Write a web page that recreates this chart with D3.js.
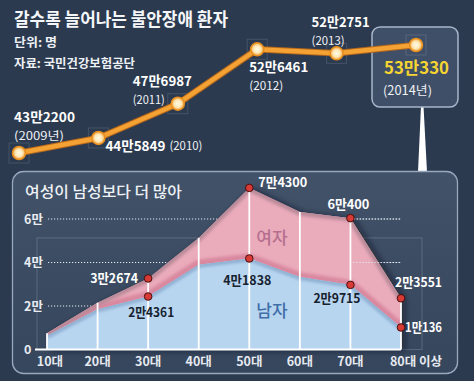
<!DOCTYPE html>
<html>
<head>
<meta charset="utf-8">
<script src="https://cdn.jsdelivr.net/npm/d3@7"></script>
<style>
  html, body { margin: 0; padding: 0; background: #2b3a4f; }
  svg { display: block; }
  text { font-family: "Noto Sans CJK KR", "Noto Sans", sans-serif; }
</style>
</head>
<body>
<div id="chart"></div>
<script>
/* ---------------- data ---------------- */
const years = ["2009", "2010", "2011", "2012", "2013", "2014"];
const patients = [432200, 445849, 476987, 526461, 522751, 530330];
const patientLabels = ["43만2200", "44만5849", "47만6987", "52만6461", "52만2751", "53만330"];
const yearLabels = ["(2009년)", "(2010)", "(2011)", "(2012)", "(2013)", "(2014년)"];

const ages = ["10대", "20대", "30대", "40대", "50대", "60대", "70대", "80대 이상"];
const women = [7500, 21500, 32674, 51300, 74300, 63200, 60400, 23551];
const men = [6300, 18500, 24361, 39000, 41838, 33300, 29715, 10136];
const womenLabels = { 2: "3만2674", 4: "7만4300", 6: "6만400", 7: "2만3551" };
const menLabels = { 2: "2만4361", 4: "4만1838", 6: "2만9715", 7: "1만136" };
const yTicks = [0, 20000, 40000, 60000];
const yTickLabels = ["0", "2만", "4만", "6만"];

/* ---------------- svg ---------------- */
const W = 474, H = 381;
const svg = d3.select("#chart").append("svg").attr("width", W).attr("height", H);
const defs = svg.append("defs");

svg.append("rect").attr("width", W).attr("height", H).attr("fill", "#2b3a4f");

// text helper: condensed look via textLength
function label(g, x, y, str, opt) {
    const t = g.append("text")
        .attr("x", x).attr("y", y)
        .attr("font-size", opt.size)
        .attr("font-weight", opt.weight || 700)
        .attr("fill", opt.fill || "#fff")
        .attr("text-anchor", opt.anchor || "start")
        .text(str);
    if (opt.len) t.attr("textLength", opt.len).attr("lengthAdjust", "spacingAndGlyphs");
    return t;
}

/* ---------------- header ---------------- */
label(svg, 14, 26, "갈수록 늘어나는 불안장애 환자", { size: 18, len: 214, fill: "#f4f6f9" });
label(svg, 14, 47, "단위: 명", { size: 12, len: 43, fill: "#eef1f5" });
label(svg, 14, 68, "자료: 국민건강보험공단", { size: 12, len: 121, fill: "#eef1f5" });

/* ---------------- line chart ---------------- */
const xLine = d3.scalePoint().domain(years).range([19, 416]);
const yLine = d3.scaleLinear().domain([432200, 530330]).range([153, 45]);

// 2014 highlight box + pointer
svg.append("path")
    .attr("d", "M421,106 L423.5,106 L427,172 L418,172 Z")
    .attr("fill", "#ffffff");
svg.append("rect")
    .attr("x", 372).attr("y", 27).attr("width", 86).attr("height", 80).attr("rx", 8)
    .attr("fill", "#3f4f67").attr("stroke", "#a9b7cb").attr("stroke-width", 1.5);

// faint bracket squares around points
const lineG = svg.append("g");
lineG.selectAll("rect.br").data(years).join("rect")
    .attr("x", d => xLine(d) - 10)
    .attr("y", (d, i) => yLine(patients[i]) - 10)
    .attr("width", 20).attr("height", 20)
    .attr("fill", "none").attr("stroke", "rgba(255,255,255,0.13)").attr("stroke-width", 1);

const line = d3.line().x((d, i) => xLine(years[i])).y(d => yLine(d));
lineG.append("path").datum(patients)
    .attr("d", line).attr("fill", "none")
    .attr("stroke", "#b5671c").attr("stroke-width", 6.5).attr("stroke-linejoin", "round");
lineG.append("path").datum(patients)
    .attr("d", line).attr("fill", "none")
    .attr("stroke", "#f4a233").attr("stroke-width", 4.5).attr("stroke-linejoin", "round");

const rg = defs.append("radialGradient").attr("id", "dotGrad");
rg.append("stop").attr("offset", "0%").attr("stop-color", "#fffbe8");
rg.append("stop").attr("offset", "55%").attr("stop-color", "#ffe9b8");
rg.append("stop").attr("offset", "100%").attr("stop-color", "#f3a13a");

lineG.selectAll("circle").data(patients).join("circle")
    .attr("cx", (d, i) => xLine(years[i]))
    .attr("cy", d => yLine(d))
    .attr("r", 6.5)
    .attr("fill", "url(#dotGrad)")
    .attr("stroke", "#e8901f").attr("stroke-width", 1.5);

// value labels (offsets relative to each point)
const lineLab = [
    { dx: -5, dy: -31, ydx: -5, ydy: -13, vlen: 61, ylen: 50 },
    { dx: 7, dy: 13, ydx: 71, ydy: 12, vlen: 60, ylen: 33 },
    { dx: -45, dy: -18, ydx: -45, ydy: 0, vlen: 59, ylen: 32 },
    { dx: -8, dy: 23, ydx: -8, ydy: 41, vlen: 59, ylen: 34 },
    { dx: -25, dy: -26, ydx: -25, ydy: -8, vlen: 58, ylen: 33 }
];
lineLab.forEach((o, i) => {
    const px = xLine(years[i]), py = yLine(patients[i]);
    label(svg, px + o.dx, py + o.dy, patientLabels[i], { size: 13.5, len: o.vlen });
    label(svg, px + o.ydx, py + o.ydy, yearLabels[i], { size: 11.5, weight: 400, len: o.ylen, fill: "#f0f2f5" });
});
label(svg, 384, 74, patientLabels[5], { size: 17, len: 65, fill: "#f6d531" });
label(svg, 383, 95, yearLabels[5], { size: 12.5, weight: 400, len: 49, fill: "#f0f2f5" });

/* ---------------- lower panel ---------------- */
const pg = defs.append("linearGradient").attr("id", "panelGrad")
    .attr("x1", 0).attr("y1", 0).attr("x2", 0).attr("y2", 1);
pg.append("stop").attr("offset", "0%").attr("stop-color", "#415269");
pg.append("stop").attr("offset", "100%").attr("stop-color", "#36465c");

svg.append("rect")
    .attr("x", 12.5).attr("y", 171.5).attr("width", 445).attr("height", 202).attr("rx", 11)
    .attr("fill", "url(#panelGrad)").attr("stroke", "#9aa8bc").attr("stroke-width", 1.3);

label(svg, 25, 197, "여성이 남성보다 더 많아", { size: 15, weight: 500, len: 157, fill: "#eef1f5" });

const x = d3.scalePoint().domain(ages).range([47, 401]);
const y = d3.scaleLinear().domain([0, 60000]).range([349.5, 219]);

const plot = svg.append("g");

// faint frame
plot.append("rect")
    .attr("x", 37).attr("y", y(51300)).attr("width", 385).attr("height", y(0) - y(51300))
    .attr("fill", "none").attr("stroke", "rgba(170,185,205,0.35)").attr("stroke-width", 0.8);

// dotted grid
plot.selectAll("line.grid").data(yTicks.slice(1)).join("line")
    .attr("x1", 48).attr("x2", x(ages[7]))
    .attr("y1", d => y(d)).attr("y2", d => y(d))
    .attr("stroke", "#e6ebf2").attr("stroke-width", 1.2).attr("stroke-dasharray", "1.2,1.8");

// y labels
plot.selectAll("text.yl").data(yTicks).join("text")
    .attr("x", 24).attr("y", d => y(d) + 4.5)
    .attr("font-size", 12.5).attr("font-weight", 700).attr("fill", "#e8ecf2")
    .text((d, i) => yTickLabels[i]);

// areas
const shadow = defs.append("filter").attr("id", "shadow")
    .attr("x", "-10%").attr("y", "-10%").attr("width", "130%").attr("height", "130%");
shadow.append("feDropShadow").attr("dx", 4).attr("dy", 1).attr("stdDeviation", 3)
    .attr("flood-color", "#0d1520").attr("flood-opacity", 0.6);
const blur = defs.append("filter").attr("id", "blur");
blur.append("feGaussianBlur").attr("stdDeviation", 1.6);

const areaW = d3.area().x((d, i) => x(ages[i])).y0(y(0)).y1(d => y(d));
const lineW = d3.line().x((d, i) => x(ages[i])).y(d => y(d));

defs.append("clipPath").attr("id", "clipW").append("path").datum(women).attr("d", areaW);
defs.append("clipPath").attr("id", "clipM").append("path").datum(men).attr("d", areaW);

const areas = plot.append("g").attr("filter", "url(#shadow)");
areas.append("path").datum(women).attr("d", areaW).attr("fill", "#eaabbb");

const wShade = plot.append("g").attr("clip-path", "url(#clipW)");
wShade.append("path").datum(men).attr("d", lineW).attr("fill", "none")
    .attr("stroke", "#d9889f").attr("stroke-width", 10).attr("filter", "url(#blur)");
wShade.append("path").datum(women).attr("d", lineW).attr("fill", "none")
    .attr("stroke", "#b98a99").attr("stroke-width", 7).attr("filter", "url(#blur)");

plot.append("path").datum(men).attr("d", areaW).attr("fill", "#b8d5f0");
plot.append("g").attr("clip-path", "url(#clipM)")
    .append("path").datum(men).attr("d", lineW).attr("fill", "none")
    .attr("stroke", "#8fb0d2").attr("stroke-width", 6).attr("filter", "url(#blur)");

// right-side dotted grid on top
plot.selectAll("line.gridR").data([40000, 60000]).join("line")
    .attr("x1", x(ages[6]) + 3).attr("x2", x(ages[7]))
    .attr("y1", d => y(d)).attr("y2", d => y(d))
    .attr("stroke", "#e6ebf2").attr("stroke-width", 1.2).attr("stroke-dasharray", "1.2,1.8");

// vertical white lines
plot.selectAll("line.v").data(women).join("line")
    .attr("x1", (d, i) => x(ages[i])).attr("x2", (d, i) => x(ages[i]))
    .attr("y1", y(0)).attr("y2", d => y(d))
    .attr("stroke", "#ffffff").attr("stroke-width", 1.8);

// baseline
plot.append("line").attr("x1", 35).attr("x2", x(ages[7]))
    .attr("y1", y(0)).attr("y2", y(0))
    .attr("stroke", "#ffffff").attr("stroke-width", 2);

// x labels
plot.selectAll("text.xl").data(ages).join("text")
    .attr("x", (d, i) => x(d) + (i === 0 ? 3 : 0) + (i === 7 ? 15 : 0))
    .attr("y", 366)
    .attr("text-anchor", "middle")
    .attr("font-size", 12.5).attr("font-weight", 700).attr("fill", "#e6eaf0")
    .text(d => d);

// series names
label(plot, 272, 244, "여자", { size: 17, weight: 500, anchor: "middle", fill: "#b56f8e" });
label(plot, 272, 317, "남자", { size: 17, weight: 500, anchor: "middle", fill: "#3f6ea8" });

// markers
const markIdx = [2, 4, 6, 7];
markIdx.forEach(i => {
    [women[i], men[i]].forEach(v => {
        plot.append("circle").attr("cx", x(ages[i])).attr("cy", y(v)).attr("r", 3.8)
            .attr("fill", "#d83a35").attr("stroke", "#4a0e0e").attr("stroke-width", 1);
    });
});

// value labels
const wOff = { 2: [-10, 5, "end", 48], 4: [9, -1, "start", 49], 6: [-23, -9, "start", 42], 7: [-6, -11, "start", 47] };
const mOff = { 2: [-20, 20, "start", 46], 4: [-26, 26, "start", 48], 6: [-37, 18, "start", 47], 7: [4, 5, "start", 37] };
markIdx.forEach(i => {
    const wx = x(ages[i]), wy = y(women[i]), my = y(men[i]);
    label(plot, wx + wOff[i][0], wy + wOff[i][1], womenLabels[i],
        { size: 13, anchor: wOff[i][2], len: wOff[i][3], fill: "#ffffff" });
    label(plot, wx + mOff[i][0], my + mOff[i][1], menLabels[i],
        { size: 13, anchor: mOff[i][2], len: mOff[i][3], fill: i === 7 ? "#ffffff" : "#17222f" });
});
</script>
</body>
</html>
